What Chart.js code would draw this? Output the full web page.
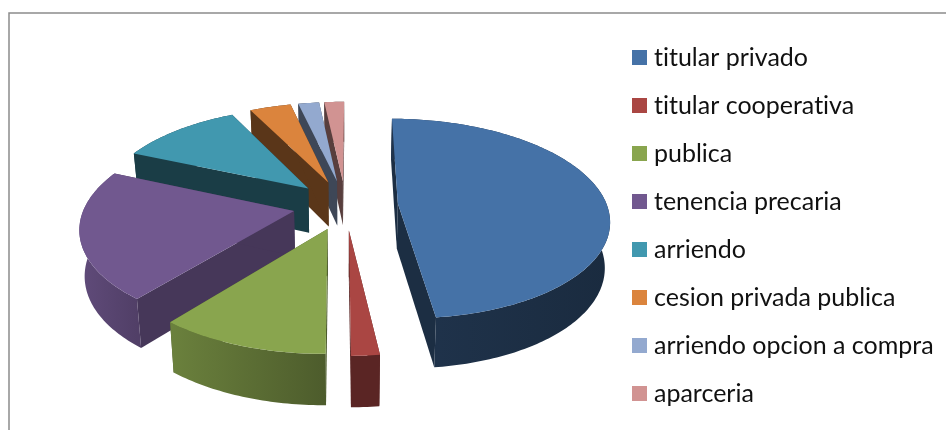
<!DOCTYPE html>
<html>
<head>
<meta charset="utf-8">
<title>Tenencia</title>
<script src="https://cdn.jsdelivr.net/npm/chart.js@4"></script>
<style>
    html, body { margin: 0; padding: 0; background: #fff; }
    canvas { display: block; }
</style>
</head>
<body>
<canvas id="tenencia" width="946" height="430"></canvas>
<script>
const categories = [
    'titular privado',
    'titular cooperativa',
    'publica',
    'tenencia precaria',
    'arriendo',
    'cesion privada publica',
    'arriendo opcion a compra',
    'aparceria'
];
const shares = [48, 1.8, 10.9, 20.7, 11.1, 3.75, 1.9, 1.8];
const colors = ['#4572a7', '#aa4643', '#89a54e', '#71588f', '#4198af', '#db843d', '#93a9cf', '#d19392'];

// how dark the walls are: cut faces, then the left and right end of the curved wall
const cutShade = [0.4, 0.53, 0.56, 0.62, 0.4, 0.41, 0.42, 0.42];
const rimLeftShade = [0.46, 0.53, 0.78, 0.85, 0.4, 0.41, 0.42, 0.42];
const rimRightShade = [0.38, 0.53, 0.56, 0.72, 0.4, 0.41, 0.42, 0.42];

// fake 3D view of the pie plane
const view = { cx: 345.5, cy: 205, rx: 209, ry: 98, tilt: 0.15, depth: 45, depthTilt: 0.1, shrink: 0.98 };

const shade = (hex, f) => {
    const n = parseInt(hex.slice(1), 16);
    return `rgb(${((n >> 16) & 255) * f},${((n >> 8) & 255) * f},${(n & 255) * f})`;
};

const project = (u, v, low) => {
    const k = 1 - view.tilt * v;
    const x = view.cx + view.rx * u / k;
    const y = view.cy + view.ry * v / k;
    if (!low) return [x, y];
    return [view.cx + (x - view.cx) * view.shrink, y + view.depth / (1 - view.depthTilt * v)];
};

const fillPath = (ctx, points, fill) => {
    ctx.beginPath();
    points.forEach((p, i) => (i ? ctx.lineTo(p[0], p[1]) : ctx.moveTo(p[0], p[1])));
    ctx.closePath();
    ctx.fillStyle = fill;
    ctx.fill();
};

const drawSlice = (ctx, arc, i) => {
    const color = colors[i];
    const mid = (arc.startAngle + arc.endAngle) / 2;
    const off = arc.options.offset / arc.outerRadius;
    const u0 = off * Math.cos(mid);
    const v0 = off * Math.sin(mid);

    // rim sampled along the angles chart.js gave this arc
    const steps = Math.max(2, Math.ceil((arc.endAngle - arc.startAngle) * 180 / Math.PI));
    const rim = [];
    for (let s = 0; s <= steps; s++) {
        const a = arc.startAngle + (arc.endAngle - arc.startAngle) * s / steps;
        rim.push([u0 + Math.cos(a), v0 + Math.sin(a)]);
    }
    const top = rim.map(p => project(p[0], p[1], false));
    const low = rim.map(p => project(p[0], p[1], true));
    const apexTop = project(u0, v0, false);
    const apexLow = project(u0, v0, true);

    const cut = shade(color, cutShade[i]);
    fillPath(ctx, [apexTop, top[0], low[0], apexLow], cut);
    fillPath(ctx, [apexTop, top[steps], low[steps], apexLow], cut);

    const xs = top.map(p => p[0]);
    const wall = ctx.createLinearGradient(Math.min(...xs), 0, Math.max(...xs), 0);
    wall.addColorStop(0, shade(color, rimLeftShade[i]));
    wall.addColorStop(1, shade(color, rimRightShade[i]));
    fillPath(ctx, top.concat(low.slice().reverse()), wall);

    fillPath(ctx, [apexTop].concat(top), color);
};

const pie3d = {
    id: 'pie3d',
    beforeDraw(chart) {
        const ctx = chart.ctx;
        // no ligatures in the legend text
        ctx.textRendering = 'optimizeSpeed';
        ctx.save();
        ctx.strokeStyle = '#8c8c8c';
        ctx.lineWidth = 1.5;
        ctx.beginPath();
        ctx.moveTo(9, 430);
        ctx.lineTo(9, 13);
        ctx.lineTo(946, 13);
        ctx.stroke();
        ctx.restore();
    },
    afterLayout(chart) {
        chart.legend.left = 613.5;
        chart.legend.top = 22;
    },
    beforeDatasetDraw(chart, args) {
        const ctx = chart.ctx;
        const arcs = chart.getDatasetMeta(args.index).data;
        // back slices first, front ones on top
        const order = arcs.map((arc, i) => i).sort((a, b) => {
            const midA = (arcs[a].startAngle + arcs[a].endAngle) / 2;
            const midB = (arcs[b].startAngle + arcs[b].endAngle) / 2;
            return Math.sin(midA) - Math.sin(midB);
        });
        ctx.save();
        order.forEach(i => drawSlice(ctx, arcs[i], i));
        ctx.restore();
        return false;
    }
};

const swatch = color => {
    const c = document.createElement('canvas');
    c.width = 15;
    c.height = 15;
    const g = c.getContext('2d');
    g.fillStyle = color;
    g.fillRect(0, 0, 15, 15);
    return c;
};

new Chart(document.getElementById('tenencia'), {
    type: 'pie',
    data: {
        labels: categories,
        datasets: [{
            data: shares,
            backgroundColor: colors,
            borderWidth: 0,
            offset: 48
        }]
    },
    options: {
        responsive: false,
        animation: false,
        rotation: 0.3,
        plugins: {
            tooltip: { enabled: false },
            legend: {
                position: 'right',
                align: 'start',
                onClick: null,
                labels: {
                    font: { family: 'Lato', size: 25 },
                    color: '#111',
                    padding: 23,
                    usePointStyle: true,
                    pointStyleWidth: 5,
                    boxHeight: 15,
                    generateLabels: chart => categories.map((text, i) => ({
                        text,
                        index: i,
                        fontColor: '#111',
                        pointStyle: swatch(colors[i]),
                        lineWidth: 0
                    }))
                }
            }
        }
    },
    plugins: [pie3d]
});
</script>
</body>
</html>
